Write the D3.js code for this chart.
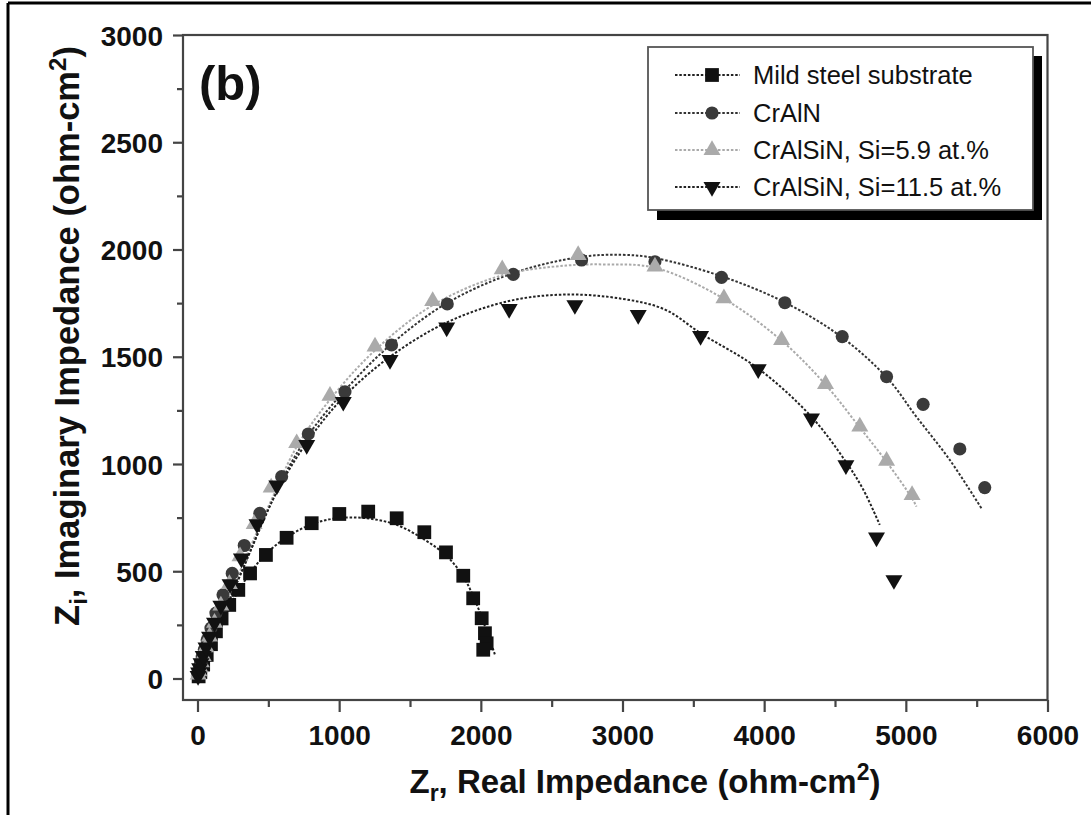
<!DOCTYPE html>
<html><head><meta charset="utf-8">
<script src="https://cdn.jsdelivr.net/npm/d3@7"></script>
<style>body{margin:0;background:#fff}svg{display:block}text{font-family:"Liberation Sans",Arial,sans-serif}</style>
</head><body>
<svg id="c" width="1091" height="815"></svg>
<script>
// ---- data ----
const xTicks = [0,1000,2000,3000,4000,5000,6000];
const yTicks = [0,500,1000,1500,2000,2500,3000];
const seriesNames = ["Mild steel substrate","CrAlN","CrAlSiN, Si=5.9 at.%","CrAlSiN, Si=11.5 at.%"];

const steelZr = [8,20,40,65,95,130,170,224,288,371,483,629,806,1001,1205,1406,1601,1754,1876,1946,2006,2029,2041,2017];
const steelZi = [10,30,65,110,160,220,280,343,413,490,576,656,724,767,778,747,682,588,479,374,281,211,164,134];
const steelFitZr = [0,60,140,224,300,380,488,629,806,982,1194,1406,1605,1759,1876,1958,2017,2064,2100];
const steelFitZi = [0,90,210,330,420,500,584,658,719,747,747,716,646,571,475,366,265,180,110];

const cralnZr = [4,8,14,22,33,48,68,95,130,180,245,330,440,594,782,1041,1370,1763,2229,2711,3229,3699,4146,4551,4864,5122,5381,5557];
const cralnZi = [18,32,50,72,100,135,180,235,305,390,490,620,770,941,1140,1337,1555,1746,1884,1951,1943,1870,1752,1594,1407,1278,1070,890];
const cralnFitZr = [0,100,300,600,800,1050,1370,1760,2230,2700,3000,3230,3700,4150,4550,4870,5075,5310,5534];
const cralnFitZi = [0,170,480,930,1150,1350,1560,1750,1890,1965,1975,1960,1875,1752,1590,1400,1220,1019,793];

const si59Zr = [5,10,17,27,40,60,85,120,165,225,300,400,520,700,935,1253,1660,2151,2687,3229,3716,4123,4433,4675,4864,5044];
const si59Zi = [18,33,52,75,105,145,195,260,340,440,570,720,890,1097,1318,1547,1760,1908,1974,1920,1772,1578,1373,1174,1015,855];
const si59FitZr = [0,100,300,520,700,935,1253,1660,2151,2600,2900,3230,3716,4123,4433,4675,4864,5044,5075];
const si59FitZi = [0,175,500,830,1080,1300,1530,1740,1880,1925,1930,1915,1770,1575,1370,1170,1010,840,801];

const si115Zr = [4,8,15,25,40,60,85,120,165,230,310,420,560,771,1029,1359,1759,2200,2664,3111,3551,3958,4334,4577,4793,4916];
const si115Zi = [12,28,48,72,105,145,195,260,340,440,560,720,900,1089,1290,1485,1637,1723,1741,1695,1597,1442,1213,995,658,459];
const si115FitZr = [0,100,300,560,771,1029,1359,1759,2200,2600,3000,3300,3551,3958,4334,4577,4700,4816];
const si115FitZi = [0,170,480,870,1100,1310,1500,1660,1760,1790,1770,1720,1610,1445,1220,1010,880,716];

// ---- drawing ----
const svg = d3.select("#c");
const x = d3.scaleLinear().domain([0,6000]).range([197.5,1047.5]);
const y = d3.scaleLinear().domain([0,3000]).range([678.5,35]);
const frame = {l:183, r:1047.5, t:35, b:700};

// outer border of picture
svg.append("line").attr("x1",8).attr("x2",8).attr("y1",3).attr("y2",815).attr("stroke","#000").attr("stroke-width",3);
svg.append("line").attr("x1",8).attr("x2",1091).attr("y1",3).attr("y2",3).attr("stroke","#000").attr("stroke-width",3);

// frame
svg.append("rect").attr("x",frame.l).attr("y",frame.t).attr("width",frame.r-frame.l).attr("height",frame.b-frame.t)
  .attr("fill","none").attr("stroke","#444").attr("stroke-width",2.2);

// axes
const xAx = svg.append("g").attr("transform",`translate(0,${frame.b})`)
  .call(d3.axisBottom(x).tickValues(xTicks).tickSize(12).tickFormat(d3.format("d")));
const xMinor = svg.append("g").attr("transform",`translate(0,${frame.b})`)
  .call(d3.axisBottom(x).tickValues(d3.range(500,6000,1000)).tickSize(7).tickFormat(""));
const yAx = svg.append("g").attr("transform",`translate(${frame.l},0)`)
  .call(d3.axisLeft(y).tickValues(yTicks).tickSize(10).tickFormat(d3.format("d")));
const yMinor = svg.append("g").attr("transform",`translate(${frame.l},0)`)
  .call(d3.axisLeft(y).tickValues(d3.range(250,3000,500)).tickSize(6).tickFormat(""));
[xAx,xMinor,yAx,yMinor].forEach(g=>{
  g.select(".domain").remove();
  g.selectAll(".tick line").attr("stroke","#444").attr("stroke-width",2.2);
});
xAx.selectAll(".tick text").attr("font-size",28).attr("font-weight","bold").attr("fill","#111").attr("dy","0").attr("y",45);
yAx.selectAll(".tick text").attr("font-size",28).attr("font-weight","bold").attr("fill","#111").attr("x",-20).attr("dy","0.36em");

// axis titles
const xt = svg.append("text").attr("x",645).attr("y",793).attr("text-anchor","middle")
  .attr("font-size",33).attr("font-weight","bold").attr("fill","#111");
xt.append("tspan").text("Z");
xt.append("tspan").text("r").attr("font-size",23).attr("dy",8);
xt.append("tspan").text(", Real Impedance (ohm-cm").attr("dy",-8);
xt.append("tspan").text("2").attr("font-size",23).attr("dy",-13);
xt.append("tspan").text(")").attr("dy",13);

const yt = svg.append("text").attr("transform","translate(79,336) rotate(-90)").attr("text-anchor","middle")
  .attr("font-size",34.5).attr("font-weight","bold").attr("fill","#111");
yt.append("tspan").text("Z");
yt.append("tspan").text("i").attr("font-size",24).attr("dy",8);
yt.append("tspan").text(", Imaginary Impedance (ohm-cm").attr("dy",-8);
yt.append("tspan").text("2").attr("font-size",24).attr("dy",-13);
yt.append("tspan").text(")").attr("dy",13);

// panel label
svg.append("text").attr("x",199).attr("y",100).attr("font-size",49).attr("font-weight","bold").attr("fill","#111").text("(b)");

// series
const series = [
  {zr:steelZr, zi:steelZi, fr:steelFitZr, fi:steelFitZi, sym:d3.symbolSquare, size:190, rot:0, fill:"#111", line:"#222"},
  {zr:cralnZr, zi:cralnZi, fr:cralnFitZr, fi:cralnFitZi, sym:d3.symbolCircle, size:135, rot:0, fill:"#3a3a3a", line:"#333"},
  {zr:si59Zr, zi:si59Zi, fr:si59FitZr, fi:si59FitZi, sym:d3.symbolTriangle, size:125, rot:0, fill:"#aaa", line:"#aaa"},
  {zr:si115Zr, zi:si115Zi, fr:si115FitZr, fi:si115FitZi, sym:d3.symbolTriangle, size:125, rot:180, fill:"#111", line:"#222"}
];
const lineGen = d3.line().x(d=>x(d[0])).y(d=>y(d[1])).curve(d3.curveCatmullRom.alpha(0.5));
series.forEach(s=>{
  const pts = s.fr.map((v,i)=>[v,s.fi[i]]);
  svg.append("path").attr("d",lineGen(pts)).attr("fill","none").attr("stroke",s.line)
    .attr("stroke-width",2).attr("stroke-dasharray","2.5,1.8");
});
series.forEach(s=>{
  const sym = d3.symbol().type(s.sym).size(s.size);
  svg.append("g").selectAll("path").data(s.zr.map((v,i)=>[v,s.zi[i]])).join("path")
    .attr("d",sym).attr("fill",s.fill)
    .attr("transform",d=>`translate(${x(d[0])},${y(d[1])}) rotate(${s.rot})`);
});

// legend
const lg = svg.append("g");
lg.append("rect").attr("x",657).attr("y",56).attr("width",385).attr("height",164).attr("fill","#000");
lg.append("rect").attr("x",648).attr("y",47).attr("width",385).attr("height",163).attr("fill","#fff").attr("stroke","#555").attr("stroke-width",1.8);
const rowsY = [75,113,150,187];
series.forEach((s,i)=>{
  const yy = rowsY[i];
  lg.append("line").attr("x1",675).attr("x2",740).attr("y1",yy).attr("y2",yy).attr("stroke",s.line)
    .attr("stroke-width",2).attr("stroke-dasharray","2.5,1.8");
  lg.append("path").attr("d",d3.symbol().type(s.sym).size(s.size)).attr("fill",s.fill)
    .attr("transform",`translate(712,${yy}) rotate(${s.rot})`);
  lg.append("text").attr("x",753).attr("y",yy).attr("dy","0.36em").attr("font-size",25.5).attr("fill","#111").text(seriesNames[i]);
});
</script>
</body></html>
